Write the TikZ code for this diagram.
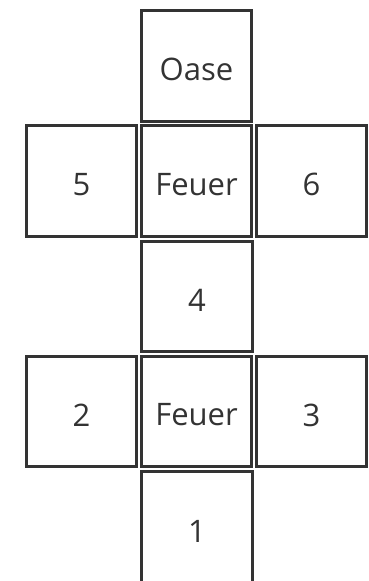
\documentclass[tikz,border=0pt]{standalone}
\usepackage{fontspec}
\setmainfont{Open Sans}
\definecolor{ink}{HTML}{333333}
\newcommand{\lbl}[1]{\raisebox{-3.5pt}[\height][\depth]{#1}}
\begin{document}
\begin{tikzpicture}[x=1pt,y=-1pt,
  cell/.style={draw=ink,line width=2.6pt,minimum width=110.5pt,minimum height=110.5pt,inner sep=0pt,outer sep=0pt,text=ink,font=\fontsize{31}{36}\selectfont}]
\path[use as bounding box] (0,0) rectangle (369,581);
\clip (0,0) rectangle (369,581);
\fill[white] (0,0) rectangle (369,581);
\node[cell] (oase) at (196.5,66) {\lbl{Oase}};
\node[cell] (n5) at (81.5,181) {\lbl{5}};
\node[cell] (f1) at (196.5,181) {\lbl{Feuer}};
\node[cell] (n6) at (311.5,181) {\lbl{6}};
\node[cell] (n4) at (197,296.5) {\lbl{4}};
\node[cell] (n2) at (81.5,411.5) {\lbl{2}};
\node[cell] (f2) at (196.5,411.5) {\lbl{Feuer}};
\node[cell] (n3) at (311.5,411.5) {\lbl{3}};
\node[cell,minimum height=113pt] (n1) at (197,528) {\lbl{1}};
\end{tikzpicture}
\end{document}
